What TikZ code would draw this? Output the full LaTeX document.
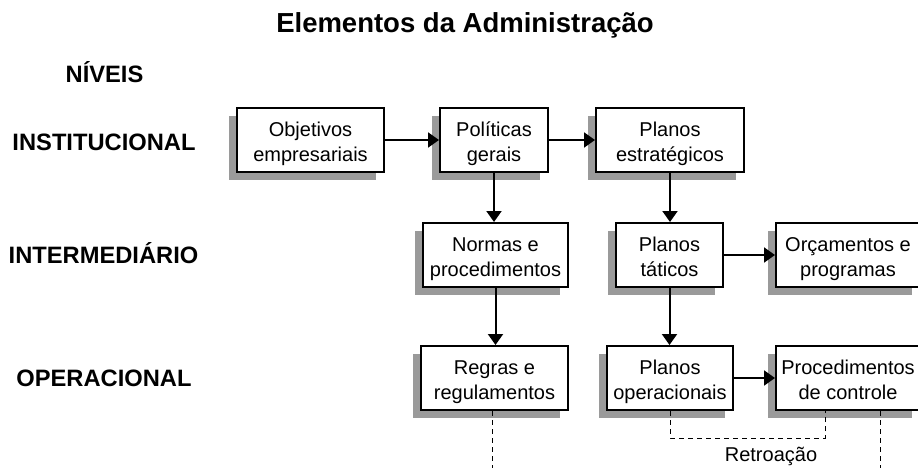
\documentclass[tikz,border=0pt]{standalone}
\usepackage{fontspec}
\setmainfont{Liberation Sans}
\usetikzlibrary{arrows.meta,shadows}
\definecolor{shadowgray}{HTML}{9A9A9A}
\tikzset{
  box/.style={draw=black, line width=2pt, fill=white, minimum height=64pt,
    inner sep=0pt, align=center, font=\fontsize{20}{25}\selectfont,
    text height=48pt, text depth=4.6pt,
    general shadow={fill=shadowgray, shadow xshift=-8pt, shadow yshift=-8pt}},
  arr/.style={line width=2pt, -{Triangle[length=11pt,width=15pt]}},
  fbline/.style={line width=1pt, dash pattern=on 5pt off 4pt},
  level/.style={font=\fontsize{23.7}{28}\selectfont\bfseries, anchor=base},
}
\begin{document}
\begin{tikzpicture}[x=1pt,y=-1pt]
\useasboundingbox (0,0) rectangle (918,468);
\clip (0,0) rectangle (918,468);

\node[anchor=base, font=\fontsize{27.5}{32}\selectfont\bfseries] (title) at (465,33) {Elementos da Administração};

\node[level] (niv) at (104.5,83) {NÍVEIS};
\node[level] (inst) at (104,150) {INSTITUCIONAL};
\node[level] (inter) at (103.5,263) {INTERMEDIÁRIO};
\node[level] (oper) at (104,386) {OPERACIONAL};

\node[box, minimum width=147pt] (obj) at (310.5,140) {Objetivos\\empresariais};
\node[box, minimum width=108pt] (pol) at (494,140) {Políticas\\gerais};
\node[box, minimum width=148pt] (est) at (670,140) {Planos\\estratégicos};

\node[box, minimum width=145pt] (nor) at (495.5,255) {Normas e\\procedimentos};
\node[box, minimum width=107pt] (tat) at (669.5,255) {Planos\\táticos};
\node[box, minimum width=144pt] (orc) at (848,255) {Orçamentos e\\programas};

\node[box, minimum width=147pt] (reg) at (494.5,378) {Regras e\\regulamentos};
\node[box, minimum width=126pt] (ope) at (670,378) {Planos\\operacionais};
\node[box, minimum width=144pt] (pro) at (848,378) {Procedimentos\\de controle};

\draw[arr] (obj.east) -- (pol.west);
\draw[arr] (pol.east) -- (est.west);
\draw[arr] (pol.south) -- (pol.south |- nor.north);
\draw[arr] (est.south) -- (est.south |- tat.north);
\draw[arr] (nor.south) -- (nor.south |- reg.north);
\draw[arr] (tat.south) -- (tat.south |- ope.north);
\draw[arr] (tat.east) -- (orc.west);
\draw[arr] (ope.east) -- (pro.west);

\coordinate (gEnd) at (492,470);
\coordinate (fb) at (825,438);
\coordinate (rEnd) at (880,470);
\draw[fbline] (gEnd |- reg.south) -- (gEnd);
\draw[fbline] (ope.south) |- (fb) -- (fb |- pro.south);
\draw[fbline] (rEnd |- pro.south) -- (rEnd);

\node[anchor=base, font=\fontsize{20}{25}\selectfont] (retro) at (771,461) {Retroação};
\end{tikzpicture}
\end{document}
